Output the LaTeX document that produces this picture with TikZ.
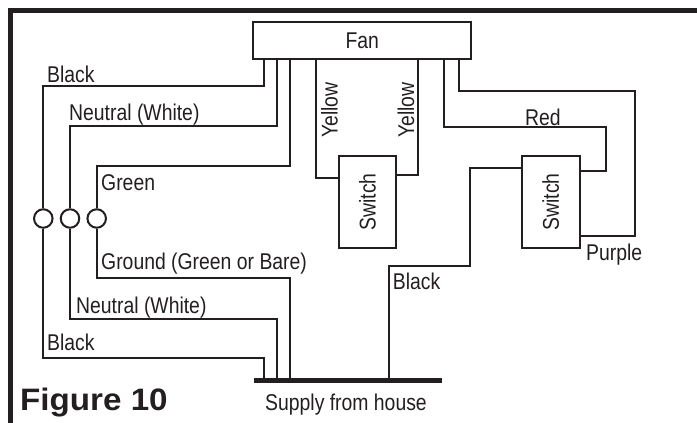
\documentclass[tikz,border=0pt]{standalone}
\usepackage{fontspec}
\setmainfont[FakeStretch=0.85]{Liberation Sans}
\newfontfamily\figfont[FakeStretch=1.07]{Liberation Sans}
\definecolor{ink}{HTML}{231F20}
\tikzset{
    wire/.style={ink, line width=2pt},
    lbl/.style={ink, anchor=base west, inner sep=0pt, font=\fontsize{22.8}{25}\selectfont},
    unit/.style={draw=ink, line width=2pt, inner sep=0pt, text=ink, font=\fontsize{22.8}{25}\selectfont},
    joint/.style={circle, draw=ink, line width=2pt, inner sep=0pt, minimum size=18.5pt}
}
\begin{document}
\begin{tikzpicture}[x=1pt,y=-1pt]

            \useasboundingbox (0,0) rectangle (697,423);
            \draw[ink, line width=5pt] (10.8,423) |- (697,10.8);

            \node[unit, minimum width=217.7pt, minimum height=37.6pt] (fan) at (362.2,40.5) {Fan};
            \node[unit, minimum width=57.6pt, minimum height=92pt] (swone) at (367.5,202) {\rotatebox{90}{Switch}};
            \node[unit, minimum width=57.7pt, minimum height=92pt] (swtwo) at (550.8,202) {\rotatebox{90}{Switch}};
            \node[joint] (joinblack) at (43.3,218.5) {};
            \node[joint] (joinwhite) at (70,218.5) {};
            \node[joint] (joingreen) at (96.7,218.5) {};
            \node[fill=ink, inner sep=0pt, minimum width=188pt, minimum height=5pt] (bus) at (348,380) {};

            % pins on the fan
            \coordinate (fanblack) at (263.7,59.3);
            \coordinate (fanwhite) at (276.7,59.3);
            \coordinate (fangreen) at (290,59.3);
            \coordinate (fanyelone) at (316,59.3);
            \coordinate (fanyeltwo) at (418.3,59.3);
            \coordinate (fanred) at (443.7,59.3);
            \coordinate (fanpurple) at (459.3,59.3);

            % pins on the switches
            \coordinate (swoneleft) at (338.7,177.7);
            \coordinate (swoneright) at (396.3,175);
            \coordinate (swtwoin) at (522,168.3);
            \coordinate (swtwored) at (579.7,170.7);
            \coordinate (swtwopurple) at (579.7,236);

            % pins on the supply
            \coordinate (busblack) at (263.7,380);
            \coordinate (buswhite) at (276.7,380);
            \coordinate (busgreen) at (290,380);
            \coordinate (busmain) at (389.3,380);

            \draw[wire] (fanblack) -- ++(0,27) -| (joinblack.north);
            \draw[wire] (fanwhite) -- ++(0,66.7) -| (joinwhite.north);
            \draw[wire] (fangreen) -- ++(0,106.4) -| (joingreen.north);

            \draw[wire] (joinblack.south) -- ++(0,129.25) -| (busblack);
            \draw[wire] (joinwhite.south) -- ++(0,89.95) -| (buswhite);
            \draw[wire] (joingreen.south) -- ++(0,49.25) -| (busgreen);

            \draw[wire] (fanyelone) |- (swoneleft);
            \draw[wire] (fanyeltwo) |- (swoneright);
            \draw[wire] (fanred) -- ++(0,68) -| ++(162.6,43.4) -- (swtwored);
            \draw[wire] (fanpurple) -- ++(0,31.7) -| ++(176,145) -- (swtwopurple);
            \draw[wire] (busmain) |- ++(81,-113.7) |- (swtwoin);

            \node[lbl] (lblblackup) at (47,82) {Black};
            \node[lbl] (lblwhiteup) at (69,120) {Neutral (White)};
            \node[lbl] (lblgreen) at (101,190) {Green};
            \node[lbl] (lblground) at (101,269.3) {Ground (Green or Bare)};
            \node[lbl] (lblwhitedown) at (76,313) {Neutral (White)};
            \node[lbl] (lblblackdown) at (47,350) {Black};
            \node[lbl] (lblred) at (525,125) {Red};
            \node[lbl] (lblpurple) at (586,260) {Purple};
            \node[lbl] (lblblackmain) at (392.7,289.7) {Black};
            \node[lbl] (lblsupply) at (265,410) {Supply from house};
            \node[lbl, rotate=90, anchor=center] (lblyelone) at (329.5,110) {Yellow};
            \node[lbl, rotate=90, anchor=center] (lblyeltwo) at (406,110) {Yellow};

            \node[lbl, font=\figfont\bfseries\fontsize{31}{33}\selectfont] (lblfigure) at (20,410) {Figure 10};

        \end{tikzpicture}
\end{document}
